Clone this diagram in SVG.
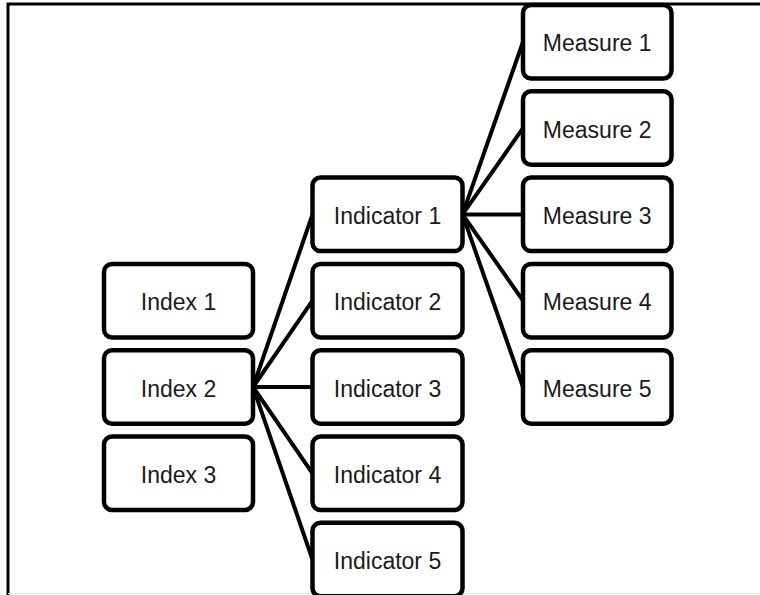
<svg xmlns="http://www.w3.org/2000/svg" width="760" height="595" viewBox="0 0 760 595">
<style>
.box{fill:#fff;stroke:#000;stroke-width:4.5}
.lbl{font-family:"Liberation Sans",Arial,sans-serif;font-size:23px;fill:#1a1a1a;text-anchor:middle}
.con{stroke:#000;stroke-width:4;fill:none;stroke-linecap:round}
</style>
<rect width="760" height="595" fill="#fff"/>
<path d="M8,600 V4 H770" fill="none" stroke="#000" stroke-width="3"/>
<line x1="8" y1="593.5" x2="760" y2="593.5" stroke="#e2e2e2" stroke-width="1"/>
<g id="connectors">
<line class="con" x1="253" y1="387" x2="312.5" y2="214.4"/>
<line class="con" x1="253" y1="387" x2="312.5" y2="300.6"/>
<line class="con" x1="253" y1="387" x2="312.5" y2="387"/>
<line class="con" x1="253" y1="387" x2="312.5" y2="473.3"/>
<line class="con" x1="253" y1="387" x2="312.5" y2="559.6"/>
<line class="con" x1="462.5" y1="214.4" x2="523" y2="41.8"/>
<line class="con" x1="462.5" y1="214.4" x2="523" y2="128.1"/>
<line class="con" x1="462.5" y1="214.4" x2="523" y2="214.4"/>
<line class="con" x1="462.5" y1="214.4" x2="523" y2="300.6"/>
<line class="con" x1="462.5" y1="214.4" x2="523" y2="387"/>
</g>
<g id="index1"><rect class="box" x="104" y="263.9" width="149" height="73.5" rx="8"/><text class="lbl" x="178.5" y="310">Index 1</text></g>
<g id="index2"><rect class="box" x="104" y="350.2" width="149" height="73.5" rx="8"/><text class="lbl" x="178.5" y="396.5">Index 2</text></g>
<g id="index3"><rect class="box" x="104" y="436.5" width="149" height="73.5" rx="8"/><text class="lbl" x="178.5" y="482.8">Index 3</text></g>
<g id="indicator1"><rect class="box" x="312.5" y="177.6" width="150" height="73.5" rx="8"/><text class="lbl" x="387.5" y="223.9">Indicator 1</text></g>
<g id="indicator2"><rect class="box" x="312.5" y="263.9" width="150" height="73.5" rx="8"/><text class="lbl" x="387.5" y="310">Indicator 2</text></g>
<g id="indicator3"><rect class="box" x="312.5" y="350.2" width="150" height="73.5" rx="8"/><text class="lbl" x="387.5" y="396.5">Indicator 3</text></g>
<g id="indicator4"><rect class="box" x="312.5" y="436.5" width="150" height="73.5" rx="8"/><text class="lbl" x="387.5" y="482.8">Indicator 4</text></g>
<g id="indicator5"><rect class="box" x="312.5" y="522.8" width="150" height="73.5" rx="8"/><text class="lbl" x="387.5" y="569.1">Indicator 5</text></g>
<g id="measure1"><rect class="box" x="523" y="5" width="148.5" height="73.5" rx="8"/><text class="lbl" x="597.2" y="51.3">Measure 1</text></g>
<g id="measure2"><rect class="box" x="523" y="91.3" width="148.5" height="73.5" rx="8"/><text class="lbl" x="597.2" y="137.6">Measure 2</text></g>
<g id="measure3"><rect class="box" x="523" y="177.6" width="148.5" height="73.5" rx="8"/><text class="lbl" x="597.2" y="223.9">Measure 3</text></g>
<g id="measure4"><rect class="box" x="523" y="263.9" width="148.5" height="73.5" rx="8"/><text class="lbl" x="597.2" y="310">Measure 4</text></g>
<g id="measure5"><rect class="box" x="523" y="350.2" width="148.5" height="73.5" rx="8"/><text class="lbl" x="597.2" y="396.5">Measure 5</text></g>
</svg>
